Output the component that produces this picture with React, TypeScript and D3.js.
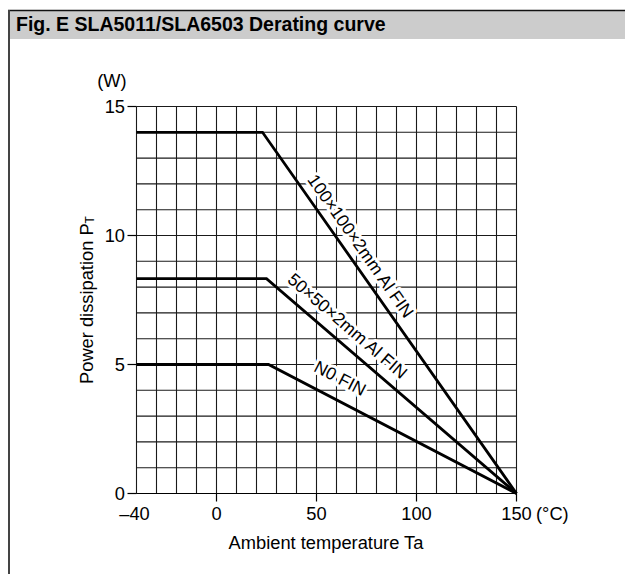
import React from "react";
import * as d3 from "d3";

const W = 625;
const H = 574;

const xTicks = [-40, 0, 50, 100, 150];
const yTicks = [0, 5, 10, 15];
const xGrid = d3.range(-40, 151, 10);
const yGrid = d3.range(0, 16, 1);

// derating curves: [temperature, power]
const fin100 = [[-40, 14], [23, 14], [150, 0]];
const fin50 = [[-40, 8.33], [25, 8.33], [150, 0]];
const noFin = [[-40, 5], [26, 5], [150, 0]];

const curveLabels = ["100×100×2mm Al FIN", "50×50×2mm Al FIN", "N0 FIN"];
// label anchor temperature along sloped segment, perpendicular offset px
const labelAt = [66, 60, 57];
const labelOff = [15, 17, 21];

const FONT = "'Liberation Sans', Arial, Helvetica, sans-serif";

export default function App() {
  const x = d3.scaleLinear().domain([-40, 150]).range([136.5, 516.5]);
  const y = d3.scaleLinear().domain([0, 15]).range([493.5, 106.5]);
  const line = d3
    .line<number[]>()
    .x((d) => x(d[0]))
    .y((d) => y(d[1]));
  const curves = [fin100, fin50, noFin];

  const labels = curves.map((c, i) => {
    const p0 = c[1];
    const p1 = c[2];
    const x0 = x(p0[0]), y0 = y(p0[1]);
    const x1 = x(p1[0]), y1 = y(p1[1]);
    const ang = Math.atan2(y1 - y0, x1 - x0);
    const t = (labelAt[i] - p0[0]) / (p1[0] - p0[0]);
    const fx = x0 + t * (x1 - x0);
    const fy = y0 + t * (y1 - y0);
    const nx = Math.sin(ang), ny = -Math.cos(ang);
    return {
      cx: fx + nx * labelOff[i],
      cy: fy + ny * labelOff[i],
      deg: (ang * 180) / Math.PI,
      text: curveLabels[i],
    };
  });

  return (
    <svg
      width={W}
      height={H}
      viewBox={`0 0 ${W} ${H}`}
      style={{ position: "absolute", left: 0, top: 0, background: "#fff" }}
      fontFamily={FONT}
    >
      <rect x={0} y={0} width={W} height={H} fill="#fff" />
      {/* title bar */}
      <rect x={8} y={10} width={W - 8} height={29} fill="#cccccc" />
      <line x1={8} x2={W} y1={10.5} y2={10.5} stroke="#111" strokeWidth={1.5} />
      <line x1={9} x2={9} y1={10} y2={H} stroke="#444" strokeWidth={2} />
      <text x={16} y={31} fontSize={19.5} fontWeight="bold" fill="#000">
        Fig. E  SLA5011/SLA6503 Derating curve
      </text>

      {/* grid */}
      <g stroke="#1a1a1a" strokeWidth={1.1}>
        {xGrid.map((v) => (
          <line key={"gx" + v} x1={x(v)} x2={x(v)} y1={y(0)} y2={y(15)} />
        ))}
        {yGrid.map((v) => (
          <line key={"gy" + v} x1={x(-40)} x2={x(150)} y1={y(v)} y2={y(v)} />
        ))}
      </g>
      {/* ticks */}
      <g stroke="#000" strokeWidth={1.2}>
        {yTicks.map((v) => (
          <line key={"ty" + v} x1={x(-40) - 9} x2={x(-40)} y1={y(v)} y2={y(v)} />
        ))}
        {xTicks.filter((v) => v !== -40).map((v) => (
          <line key={"tx" + v} x1={x(v)} x2={x(v)} y1={y(0)} y2={y(0) + 8} />
        ))}
        <line x1={x(-40)} x2={x(150)} y1={y(0)} y2={y(0)} />
      </g>
      {/* tick labels */}
      <g fontSize={18.3} fill="#000">
        {yTicks.map((v) => (
          <text key={"ly" + v} x={125} y={y(v)} dy="0.36em" textAnchor="end">
            {v}
          </text>
        ))}
        {xTicks.map((v) => (
          <text key={"lx" + v} x={x(v) + (v === -40 ? -2 : 0)} y={520} textAnchor="middle">
            {v < 0 ? "–" + Math.abs(v) : v}
          </text>
        ))}
        <text x={536} y={520}>(°C)</text>
        <text x={112} y={87} textAnchor="middle">(W)</text>
        <text x={326} y={549} textAnchor="middle">Ambient temperature Ta</text>
        <text transform={`translate(93,300) rotate(-90)`} textAnchor="middle">
          Power dissipation P
          <tspan fontSize={12} dy={1}>T</tspan>
        </text>
      </g>

      {/* curves */}
      {curves.map((c, i) => (
        <path key={"c" + i} d={line(c) || ""} fill="none" stroke="#000" strokeWidth={2.8} strokeLinejoin="miter" />
      ))}

      {/* curve labels */}
      {labels.map((l, i) => (
        <text
          key={"cl" + i}
          transform={`translate(${l.cx},${l.cy}) rotate(${l.deg})`}
          textAnchor="middle"
          dy="0.35em"
          fontSize={17.5}
          fill="#000"
          stroke="#fff"
          strokeWidth={6}
          paintOrder="stroke"
          strokeLinejoin="round"
        >
          {l.text}
        </text>
      ))}
    </svg>
  );
}
